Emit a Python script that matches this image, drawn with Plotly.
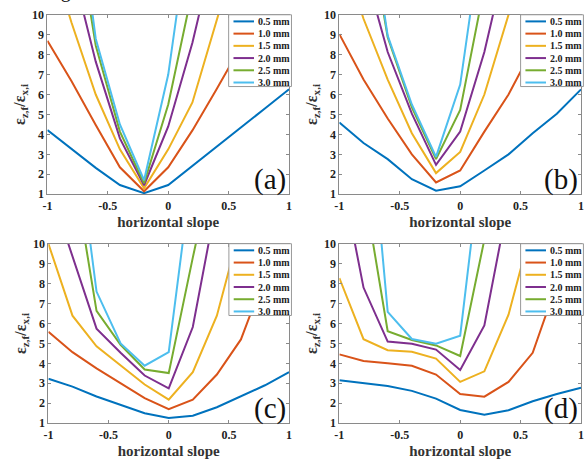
import plotly.graph_objects as go

slope = [-1.0, -0.8, -0.6, -0.4, -0.2, 0.0, 0.2, 0.4, 0.6, 0.8, 1.0]
thickness = ["0.5 mm", "1.0 mm", "1.5 mm", "2.0 mm", "2.5 mm", "3.0 mm"]
panel_labels = ["(a)", "(b)", "(c)", "(d)"]
x_ticks = [-1, -0.5, 0, 0.5, 1]
x_ticklabels = ["-1", "-0.5", "0", "0.5", "1"]
y_ticks = [1, 2, 3, 4, 5, 6, 7, 8, 9, 10]

# panel (a)
a_05 = [4.22, 3.25, 2.32, 1.46, 1.05, 1.46, 2.43, 3.40, 4.35, 5.30, 6.26]
a_10 = [8.70, 6.67, 4.47, 2.35, 1.15, 2.35, 4.20, 6.26, 8.40, 10.6, 12.8]
a_15 = [13.5, 9.60, 6.00, 3.25, 1.30, 3.25, 5.60, 9.80, 14.0, 18.0, 22.0]
a_20 = [16.0, 12.5, 7.65, 3.80, 1.45, 4.40, 8.60, 14.0, 19.0, 24.0, 29.0]
a_25 = [20.0, 16.0, 8.46, 4.14, 1.55, 5.50, 11.2, 17.0, 23.0, 29.0, 35.0]
a_30 = [22.0, 18.0, 8.80, 4.50, 1.70, 7.00, 15.6, 24.0, 32.0, 40.0, 48.0]

# panel (b)
b_05 = [4.60, 3.57, 2.76, 1.75, 1.18, 1.40, 2.19, 3.00, 4.06, 5.04, 6.26]
b_10 = [9.03, 6.75, 4.80, 3.00, 1.59, 2.19, 4.14, 6.00, 8.30, 10.5, 12.7]
b_15 = [13.5, 9.80, 6.75, 4.06, 2.06, 3.12, 6.00, 9.76, 14.0, 18.0, 22.0]
b_20 = [16.0, 12.5, 8.13, 5.04, 2.47, 4.14, 8.13, 14.0, 19.0, 24.0, 29.0]
b_25 = [20.0, 16.0, 8.87, 5.36, 2.76, 5.23, 11.4, 17.0, 23.0, 29.0, 35.0]
b_30 = [21.0, 17.0, 8.95, 5.50, 2.87, 6.50, 15.0, 24.0, 32.0, 40.0, 48.0]

# panel (c)
c_05 = [3.23, 2.83, 2.34, 1.90, 1.50, 1.26, 1.37, 1.80, 2.34, 2.90, 3.56]
c_10 = [5.58, 4.56, 3.75, 2.99, 2.26, 1.70, 2.18, 3.44, 5.20, 8.40, 12.0]
c_15 = [10.0, 6.39, 4.85, 3.88, 2.94, 2.18, 3.56, 6.39, 11.5, 16.0, 20.0]
c_20 = [13.0, 9.40, 5.74, 4.53, 3.39, 2.75, 5.82, 12.2, 18.0, 24.0, 30.0]
c_25 = [18.0, 14.0, 6.63, 4.93, 3.69, 3.51, 9.30, 14.0, 20.0, 26.0, 32.0]
c_30 = [21.0, 17.0, 7.60, 5.00, 3.88, 4.56, 14.0, 22.0, 30.0, 38.0, 46.0]

# panel (d)
d_05 = [3.15, 3.02, 2.86, 2.62, 2.23, 1.66, 1.42, 1.65, 2.10, 2.46, 2.78]
d_10 = [4.45, 4.12, 4.01, 3.88, 3.44, 2.46, 2.33, 3.07, 4.53, 8.00, 11.0]
d_15 = [8.28, 5.21, 4.66, 4.58, 4.24, 3.07, 3.60, 6.44, 11.0, 15.0, 19.0]
d_20 = [14.0, 7.80, 5.09, 4.98, 4.69, 3.67, 5.90, 13.4, 19.0, 25.0, 31.0]
d_25 = [17.0, 12.9, 5.61, 5.17, 4.90, 4.37, 10.2, 16.0, 22.0, 28.0, 34.0]
d_30 = [24.0, 20.0, 6.58, 5.22, 4.98, 5.39, 15.6, 24.0, 32.0, 40.0, 48.0]

panels = [
    [a_05, a_10, a_15, a_20, a_25, a_30],
    [b_05, b_10, b_15, b_20, b_25, b_30],
    [c_05, c_10, c_15, c_20, c_25, c_30],
    [d_05, d_10, d_15, d_20, d_25, d_30],
]

colors = ["#0072BD", "#D95319", "#EDB120", "#7E2F8E", "#77AC30", "#4DBEEE"]

W, H = 585, 468
# plot-area boxes in pixels: (left, right, top, bottom)
boxes = [(43, 288, 8, 193), (339, 584, 8, 193), (44, 288, 244, 429), (339, 584, 244, 429)]

SERIF = "Liberation Serif, Times New Roman, serif"
AX_COLOR = "#8a8a8a"

fig = go.Figure()
layout = dict(
    width=W, height=H,
    margin=dict(l=0, r=0, t=0, b=0),
    paper_bgcolor="white", plot_bgcolor="white",
    showlegend=False,
    font=dict(family=SERIF, color="#222"),
)
shapes = []
annotations = []

for i, (series, box) in enumerate(zip(panels, boxes)):
    n = "" if i == 0 else str(i + 1)
    xa, ya = "x" + n, "y" + n
    l, r, t, b = box
    for vals, name, col in zip(series, thickness, colors):
        fig.add_trace(go.Scatter(
            x=slope, y=vals, mode="lines", name=name,
            line=dict(color=col, width=2),
            xaxis=xa, yaxis=ya,
        ))
    layout["xaxis" + n] = dict(
        domain=[l / W, r / W], anchor=ya, range=[-1, 1],
        tickvals=x_ticks, ticktext=x_ticklabels,
        ticks="inside", ticklen=3, tickcolor=AX_COLOR,
        showline=True, linecolor=AX_COLOR, linewidth=1, mirror="ticks",
        showgrid=False, zeroline=False,
        tickfont=dict(family=SERIF, size=12, color="#222", weight="bold"),
        title=dict(text="<b>horizontal slope</b>", font=dict(family=SERIF, size=15, color="#333"), standoff=4),
    )
    layout["yaxis" + n] = dict(
        domain=[1 - b / H, 1 - t / H], anchor=xa, range=[1, 10],
        tickvals=y_ticks,
        ticks="inside", ticklen=3, tickcolor=AX_COLOR,
        showline=True, linecolor=AX_COLOR, linewidth=1, mirror="ticks",
        showgrid=False, zeroline=False,
        tickfont=dict(family=SERIF, size=12, color="#222", weight="bold"),
        title=dict(text="<b>ε<sub>z,f</sub>/ε<sub>x,i</sub></b>", font=dict(family=SERIF, size=16, color="#333"), standoff=2),
    )
    xd, yd = xa + " domain", ya + " domain"
    # legend box
    shapes.append(dict(type="rect", xref=xd, yref=yd, x0=0.75, x1=1.01, y0=0.60, y1=1.0,
                       line=dict(color="#999", width=1), fillcolor="white", layer="above"))
    row_h = 12.6 / (b - t)
    for k, (name, col) in enumerate(zip(thickness, colors)):
        yy = 0.963 - k * row_h
        shapes.append(dict(type="line", xref=xd, yref=yd, x0=0.77, x1=0.855, y0=yy, y1=yy,
                           line=dict(color=col, width=2), layer="above"))
        annotations.append(dict(xref=xd, yref=yd, x=0.863, y=yy, text="<b>" + name + "</b>",
                                showarrow=False, xanchor="left", yanchor="middle",
                                font=dict(family=SERIF, size=10, color="#222")))
    annotations.append(dict(xref=xd, yref=yd, x=0.997, y=-0.02, text=panel_labels[i],
                            showarrow=False, xanchor="right", yanchor="bottom",
                            font=dict(family=SERIF, size=29, color="#111")))

# cut-off caption text above the first panel
annotations.append(dict(xref="paper", yref="paper", x=38 / W, y=1 + 3 / H, text="Fig",
                        showarrow=False, xanchor="left", yanchor="bottom",
                        font=dict(family=SERIF, size=20, color="#111")))

layout["shapes"] = shapes
layout["annotations"] = annotations
fig.update_layout(**layout)
fig.write_html(
    "out.html",
    config={"displayModeBar": False},
    post_script="document.body.style.margin='0';document.body.style.padding='0';"
                "document.body.style.overflow='hidden';",
)
